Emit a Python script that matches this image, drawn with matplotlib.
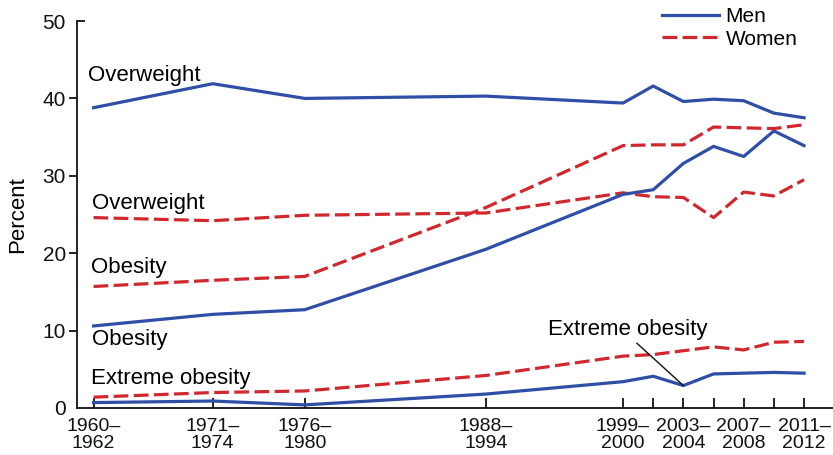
import matplotlib
matplotlib.use("Agg")
import matplotlib.pyplot as plt
import matplotlib.lines as mlines

plt.rcParams['font.family'] = ['Liberation Sans', 'DejaVu Sans']

# Survey periods and their horizontal placement
periods = ["1960–\n1962", "1971–\n1974", "1976–\n1980", "1988–\n1994",
           "1999–\n2000", "2001–\n2002", "2003–\n2004", "2005–\n2006",
           "2007–\n2008", "2009–\n2010", "2011–\n2012"]
positions = [1964.9, 1972.8, 1978.9, 1990.9, 2000, 2002, 2004, 2006, 2008, 2010, 2012]
labeled = [True, True, True, True, True, False, True, False, True, False, True]

# Prevalence (percent)
men_overweight = [38.8, 41.9, 40.0, 40.3, 39.4, 41.6, 39.6, 39.9, 39.7, 38.1, 37.5]
women_overweight = [24.6, 24.2, 24.9, 25.2, 27.8, 27.3, 27.2, 24.6, 27.9, 27.4, 29.5]
men_obesity = [10.6, 12.1, 12.7, 20.5, 27.6, 28.2, 31.6, 33.8, 32.5, 35.8, 33.9]
women_obesity = [15.7, 16.5, 17.0, 25.9, 33.9, 34.0, 34.0, 36.3, 36.2, 36.1, 36.6]
men_extreme = [0.7, 0.9, 0.4, 1.8, 3.4, 4.1, 2.9, 4.4, 4.5, 4.6, 4.5]
women_extreme = [1.4, 2.0, 2.2, 4.2, 6.7, 6.9, 7.4, 7.9, 7.5, 8.5, 8.6]

yticks = [0, 10, 20, 30, 40, 50]

BLUE = '#2f4ea6'
RED = '#d0282e'
LW = 2.3
DASH = (4.6, 1.7)

fig = plt.figure(figsize=(8.33, 4.55), dpi=100)
ax = fig.add_axes([0.0924, 0.1033, 0.9076, 0.8505])

ax.plot(positions, men_overweight, color=BLUE, lw=LW, label='Men')
ax.plot(positions, women_overweight, color=RED, lw=LW, ls=(0, DASH), label='Women')
ax.plot(positions, men_obesity, color=BLUE, lw=LW)
ax.plot(positions, women_obesity, color=RED, lw=LW, ls=(0, DASH))
ax.plot(positions, men_extreme, color=BLUE, lw=LW)
ax.plot(positions, women_extreme, color=RED, lw=LW, ls=(0, DASH))

ax.set_xlim(1963.8, 2013.92)
ax.set_ylim(0, 50)

for s in ['top', 'right']:
    ax.spines[s].set_visible(False)
for s in ['left', 'bottom']:
    ax.spines[s].set_linewidth(1.3)
    ax.spines[s].set_color('#111111')

ax.set_xticks(positions)
ax.set_xticklabels([p if show else '' for p, show in zip(periods, labeled)],
                   fontsize=14, linespacing=1.05)
ax.tick_params(axis='x', direction='in', length=7, width=1.3, pad=7, colors='#111111')
ax.set_yticks(yticks)
ax.set_yticklabels([str(v) for v in yticks], fontsize=15)
ax.tick_params(axis='y', direction='out', length=6, width=1.3, pad=2, colors='#111111')
ax.set_ylabel('Percent', fontsize=16, labelpad=10)

# top tick points into the plot, no tick at zero
yt = ax.yaxis.get_major_ticks()
yt[-1].tick1line.set_marker(mlines.TICKRIGHT)
yt[0].tick1line.set_visible(False)

fs = 16
ax.text(1964.5, 42.9, 'Overweight', fontsize=fs, va='center', ha='left')
ax.text(1964.8, 26.4, 'Overweight', fontsize=fs, va='center', ha='left')
ax.text(1964.7, 18.1, 'Obesity', fontsize=fs, va='center', ha='left')
ax.text(1964.8, 8.9, 'Obesity', fontsize=fs, va='center', ha='left')
ax.text(1964.7, 3.85, 'Extreme obesity', fontsize=fs, va='center', ha='left')
ax.annotate('Extreme obesity', xy=(positions[6], men_extreme[6]),
            xytext=(1995.0, 10.1), fontsize=fs, va='center', ha='left',
            arrowprops=dict(arrowstyle='-', color='#111111', lw=1.0,
                            relpos=(0.54, 0.0), shrinkA=0, shrinkB=0))

ax.legend(loc='upper left', bbox_to_anchor=(0.774, 1.035), frameon=False,
          fontsize=15, handlelength=2.75, handletextpad=0.3, labelspacing=0.15,
          borderpad=0, borderaxespad=0)

fig.savefig('out.png', dpi=100)
